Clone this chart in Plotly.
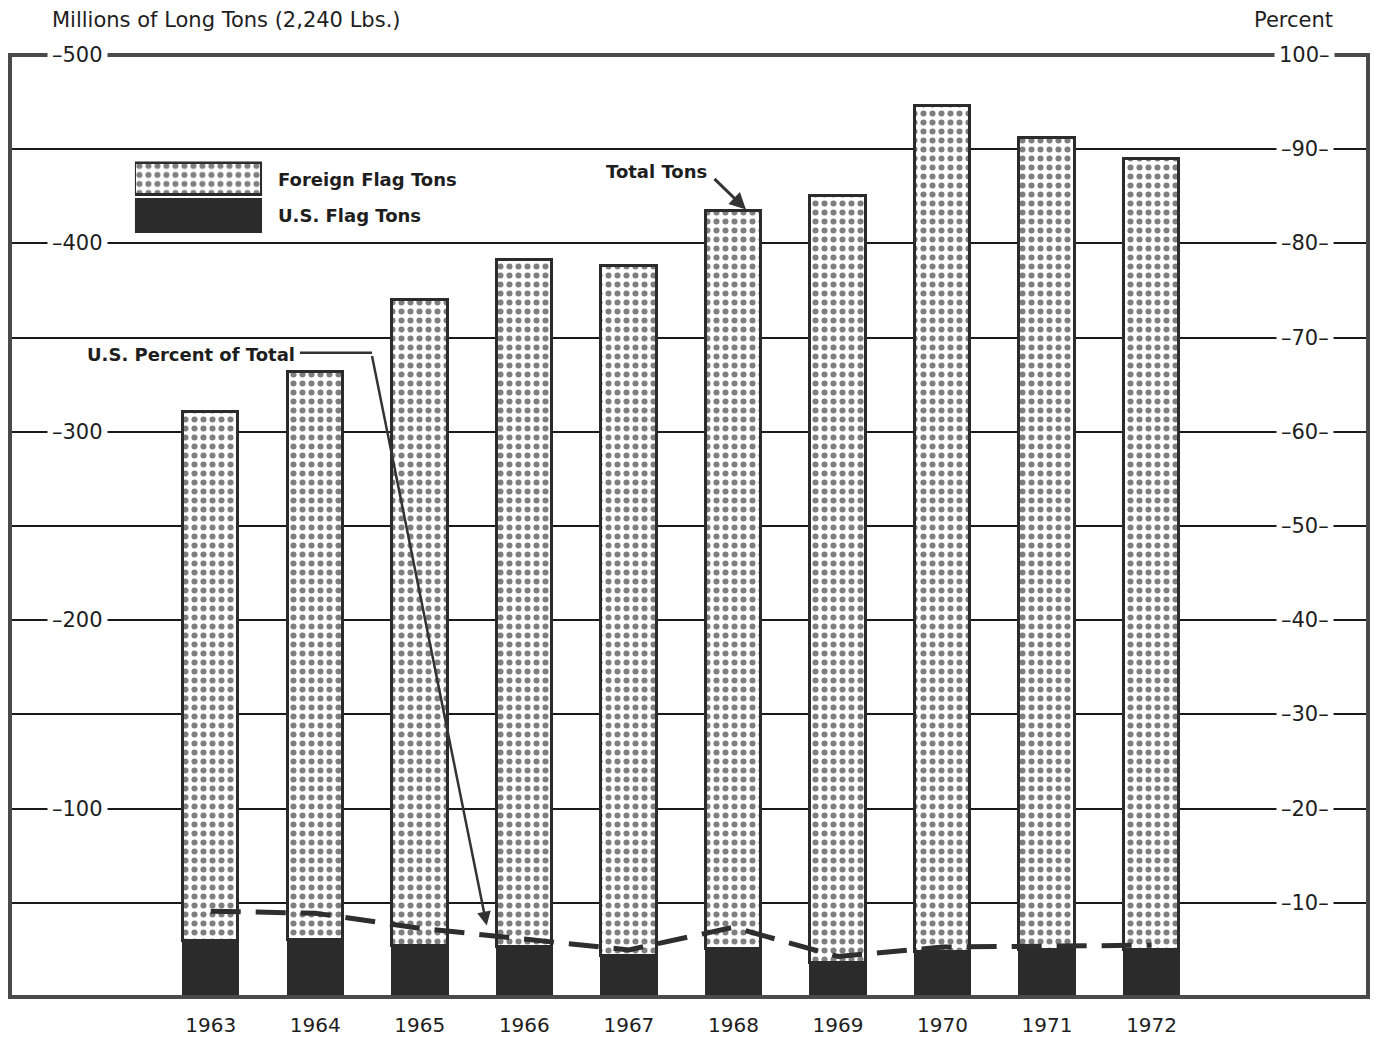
import plotly.graph_objects as go

# ---------------- data ----------------
years = [1963, 1964, 1965, 1966, 1967, 1968, 1969, 1970, 1971, 1972]
year_labels = ["1963", "1964", "1965", "1966", "1967", "1968", "1969", "1970", "1971", "1972"]
us_flag_tons = [29.5, 30.5, 27.0, 26.5, 21.5, 25.5, 18.0, 24.0, 25.0, 25.0]
foreign_flag_tons = [281.1, 301.0, 343.0, 364.5, 366.5, 391.5, 407.0, 449.0, 431.0, 420.0]
us_percent = [9.1, 8.9, 7.3, 6.2, 5.0, 7.4, 4.3, 5.3, 5.4, 5.5]
left_ticks = [100, 200, 300, 400, 500]
right_ticks = [10, 20, 30, 40, 50, 60, 70, 80, 90, 100]
legend_labels = ["Foreign Flag Tons", "U.S. Flag Tons"]

DARK = "#2b2b2b"
TEXT = "#1e1e1e"
FONT = "DejaVu Sans"
BFONT = "DejaVu Sans"

fig = go.Figure()

dot_pattern = dict(shape=".", fgcolor="#000000", bgcolor="white", size=9, solidity=0.36)

fig.add_trace(go.Bar(
    x=years, y=us_flag_tons, width=0.53, name="U.S. Flag Tons",
    marker=dict(color=DARK, line=dict(color=DARK, width=2)),
    showlegend=False, hoverinfo="skip"))
fig.add_trace(go.Bar(
    x=years, y=foreign_flag_tons, width=0.53, name="Foreign Flag Tons",
    marker=dict(color="white", pattern=dot_pattern, line=dict(color=DARK, width=3)),
    showlegend=False, hoverinfo="skip"))

fig.add_trace(go.Scatter(
    x=years, y=us_percent, yaxis="y2", mode="lines",
    line=dict(color="#2e2e2e", width=5, dash="30px,15px"),
    showlegend=False, hoverinfo="skip"))

# legend boxes drawn as bars on their own small axes
fig.add_trace(go.Bar(
    y=[1], x=[1], orientation="h", width=0.9, xaxis="x3", yaxis="y3",
    marker=dict(color="white", pattern=dot_pattern, line=dict(color=DARK, width=3)),
    showlegend=False, hoverinfo="skip"))
fig.add_trace(go.Bar(
    y=[0], x=[1], orientation="h", width=0.9, xaxis="x3", yaxis="y3",
    marker=dict(color=DARK, line=dict(color=DARK, width=2)),
    showlegend=False, hoverinfo="skip"))

annotations = []
# left tick labels
for v in left_ticks:
    annotations.append(dict(
        x=0.0495, xref="paper", y=v, yref="y", text="\u2013" + str(v),
        showarrow=False, font=dict(family=FONT, size=21, color=TEXT),
        bgcolor="white", borderpad=4, xanchor="center", yanchor="middle"))
# right tick labels
for v in right_ticks:
    txt = (str(v) + "\u2013") if v == 100 else ("\u2013" + str(v) + "\u2013")
    annotations.append(dict(
        x=0.9535, xref="paper", y=v, yref="y2", text=txt,
        showarrow=False, font=dict(family=FONT, size=21, color=TEXT),
        bgcolor="white", borderpad=4, xanchor="center", yanchor="middle"))

# axis titles
annotations.append(dict(
    x=0.0295, xref="paper", y=1.037, yref="paper", text="Millions of Long Tons (2,240 Lbs.)",
    showarrow=False, font=dict(family=FONT, size=21, color=TEXT),
    xanchor="left", yanchor="middle"))
annotations.append(dict(
    x=0.9455, xref="paper", y=1.037, yref="paper", text="Percent",
    showarrow=False, font=dict(family=FONT, size=21, color=TEXT),
    xanchor="center", yanchor="middle"))

# legend labels
for i, lab in enumerate(legend_labels):
    annotations.append(dict(
        x=0.196, xref="paper", y=1 - i, yref="y3", text="<b>" + lab + "</b>",
        showarrow=False, font=dict(family=BFONT, size=18, color=TEXT),
        xanchor="left", yanchor="middle"))

# callouts
annotations.append(dict(
    x=0.4764, xref="paper", y=438, yref="y", text="<b>Total Tons</b>",
    showarrow=False, font=dict(family=BFONT, size=18, color=TEXT),
    xanchor="center", yanchor="middle"))
annotations.append(dict(
    x=1968.12, xref="x", y=418, yref="y", text="", showarrow=True,
    ax=-33, ay=-32, arrowhead=2, arrowsize=1.1, arrowwidth=3, arrowcolor="#333"))
annotations.append(dict(
    x=0.2113, xref="paper", y=341, yref="y", text="<b>U.S. Percent of Total</b>",
    showarrow=False, font=dict(family=BFONT, size=18, color=TEXT),
    xanchor="right", yanchor="middle"))
annotations.append(dict(
    x=1965.64, xref="x", y=7.6, yref="y2", text="", showarrow=True,
    ax=-115, ay=-571, arrowhead=2, arrowsize=1.1, arrowwidth=2.5, arrowcolor="#333"))

shapes = [
    dict(type="rect", xref="paper", yref="paper", x0=0, y0=0, x1=1, y1=1,
         line=dict(color="#4a4a4a", width=4), layer="above"),
    dict(type="line", xref="paper", yref="y", x0=0.2135, x1=0.2666, y0=342, y1=342,
         line=dict(color="#333", width=2.5)),
]

fig.update_layout(
    width=1375, height=1038,
    margin=dict(l=10, r=7, t=55, b=41, autoexpand=False),
    paper_bgcolor="white", plot_bgcolor="white",
    barmode="stack", bargap=0,
    xaxis=dict(range=[1961.08, 1974.07], tickvals=years, ticktext=year_labels,
               showgrid=False, zeroline=False, showline=False, ticks="",
               ticklabelstandoff=14, automargin=False,
               tickfont=dict(family=FONT, size=20, color=TEXT)),
    yaxis=dict(range=[0, 500], dtick=50, showgrid=True, gridcolor="#1a1a1a", gridwidth=2,
               zeroline=False, showline=False, showticklabels=False, ticks=""),
    yaxis2=dict(range=[0, 100], overlaying="y", side="right", showgrid=False,
                zeroline=False, showline=False, showticklabels=False, ticks=""),
    xaxis3=dict(domain=[0.092, 0.1856], range=[0, 1], anchor="y3", visible=False),
    yaxis3=dict(domain=[0.81, 0.887], range=[-0.5, 1.5], anchor="x3", visible=False),
    annotations=annotations,
    shapes=shapes,
)

fig.write_html("out.html", config={"displayModeBar": False},
               post_script="document.body.style.margin='0';")
